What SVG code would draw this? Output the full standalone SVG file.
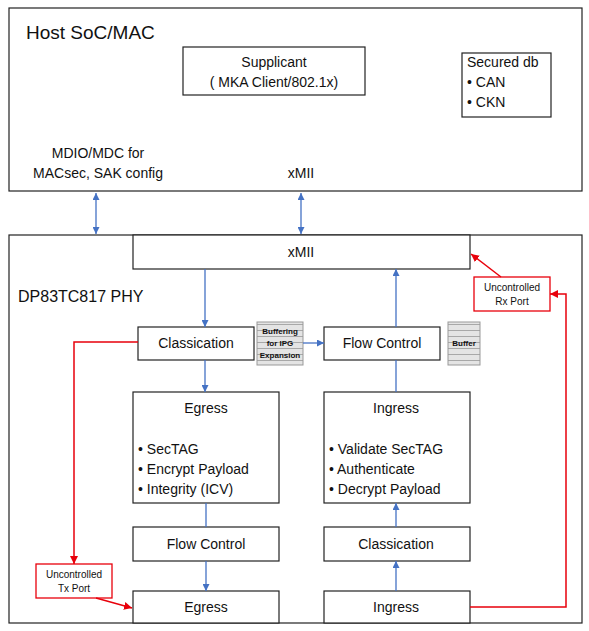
<svg xmlns="http://www.w3.org/2000/svg" width="589" height="631" viewBox="0 0 589 631">
<defs>
<marker id="ab" viewBox="0 0 10 10" refX="10" refY="5" markerWidth="7" markerHeight="7" orient="auto-start-reverse" markerUnits="userSpaceOnUse"><path d="M0,0 L10,5 L0,10 z" fill="#4472C4"/></marker>
<marker id="ar" viewBox="0 0 10 10" refX="10" refY="5" markerWidth="8" markerHeight="8" orient="auto" markerUnits="userSpaceOnUse"><path d="M0,0 L10,5 L0,10 z" fill="#E8000B"/></marker>
<pattern id="stripe" width="10" height="6" patternUnits="userSpaceOnUse"><rect width="10" height="6" fill="#e4e4e4"/><line x1="0" y1="0.5" x2="10" y2="0.5" stroke="#a8a8a8" stroke-width="1"/></pattern>
</defs>
<style>
text{font-family:"Liberation Sans",Arial,sans-serif;fill:#111}
.box{fill:#fff;stroke:#222;stroke-width:1.2}
.rbox{fill:#fff;stroke:#E8000B;stroke-width:1.3}
.t{font-size:14px;text-anchor:middle}
.b{font-size:14px}
.s{font-size:10px;text-anchor:middle}
.tiny{font-size:8px;font-weight:bold;text-anchor:middle}
.blue{stroke:#4472C4;stroke-width:1.3;fill:none}
.red{stroke:#E8000B;stroke-width:1.5;fill:none}
.buf{fill:url(#stripe);stroke:#999;stroke-width:1}
</style>
<rect width="589" height="631" fill="#fff"/>
<g id="host">
<rect class="box" x="9" y="8" width="573" height="183"/>
<text x="26" y="39" style="font-size:19px">Host SoC/MAC</text>
<text class="t" x="98" y="158">MDIO/MDC for</text>
<text class="t" x="98" y="178">MACsec, SAK config</text>
<text class="t" x="301" y="178">xMII</text>
</g>
<g id="supplicant">
<rect class="box" x="183" y="47" width="182" height="48"/>
<text class="t" x="274" y="67">Supplicant</text>
<text class="t" x="274" y="87">( MKA Client/802.1x)</text>
</g>
<g id="secured-db">
<rect class="box" x="462" y="53" width="89" height="64"/>
<text class="b" x="467" y="67">Secured db</text>
<text class="b" x="467" y="87">• CAN</text>
<text class="b" x="467" y="107">• CKN</text>
</g>
<g id="phy">
<rect class="box" x="9" y="235" width="573" height="388"/>
<text x="18" y="302" style="font-size:16px">DP83TC817 PHY</text>
</g>
<g id="xmii">
<rect class="box" x="133" y="235" width="337" height="34"/>
<text class="t" x="301" y="257">xMII</text>
</g>
<g id="classication-tx">
<rect class="box" x="138" y="327" width="116" height="33"/>
<text class="t" x="196" y="348">Classication</text>
</g>
<g id="buffering">
<rect class="buf" x="257" y="322" width="46" height="43"/>
<text class="tiny" x="280" y="334">Buffering</text>
<text class="tiny" x="280" y="346">for IPG</text>
<text class="tiny" x="280" y="358">Expansion</text>
</g>
<g id="flow-control-rx">
<rect class="box" x="324" y="327" width="116" height="33"/>
<text class="t" x="382" y="348">Flow Control</text>
</g>
<g id="buffer">
<rect class="buf" x="448" y="322" width="32" height="43"/>
<text class="tiny" x="464" y="346">Buffer</text>
</g>
<g id="egress-sec">
<rect class="box" x="133" y="392" width="146" height="111"/>
<text class="t" x="206" y="413">Egress</text>
<text class="b" x="138" y="454">• SecTAG</text>
<text class="b" x="138" y="474">• Encrypt Payload</text>
<text class="b" x="138" y="494">• Integrity (ICV)</text>
</g>
<g id="ingress-sec">
<rect class="box" x="324" y="392" width="146" height="111"/>
<text class="t" x="396" y="413">Ingress</text>
<text class="b" x="329" y="454">• Validate SecTAG</text>
<text class="b" x="329" y="474">• Authenticate</text>
<text class="b" x="329" y="494">• Decrypt Payload</text>
</g>
<g id="flow-control-tx">
<rect class="box" x="133" y="527" width="146" height="34"/>
<text class="t" x="206" y="549">Flow Control</text>
</g>
<g id="classication-rx">
<rect class="box" x="324" y="527" width="146" height="34"/>
<text class="t" x="396" y="549">Classication</text>
</g>
<g id="egress">
<rect class="box" x="133" y="591" width="146" height="32"/>
<text class="t" x="206" y="612">Egress</text>
</g>
<g id="ingress">
<rect class="box" x="324" y="591" width="146" height="32"/>
<text class="t" x="396" y="612">Ingress</text>
</g>
<g id="tx-port">
<rect class="rbox" x="36" y="564" width="76" height="34"/>
<text class="s" x="74" y="578">Uncontrolled</text>
<text class="s" x="74" y="592">Tx Port</text>
</g>
<g id="rx-port">
<rect class="rbox" x="474" y="277" width="76" height="34"/>
<text class="s" x="512" y="291">Uncontrolled</text>
<text class="s" x="512" y="305">Rx Port</text>
</g>
<g id="connectors">
<line class="blue" x1="96" y1="193" x2="96" y2="234" marker-start="url(#ab)" marker-end="url(#ab)"/>
<line class="blue" x1="301" y1="193" x2="301" y2="234" marker-start="url(#ab)" marker-end="url(#ab)"/>
<line class="blue" x1="205" y1="269" x2="205" y2="327" marker-end="url(#ab)"/>
<line class="blue" x1="396" y1="327" x2="396" y2="269" marker-end="url(#ab)"/>
<line class="blue" x1="303" y1="343" x2="324" y2="343" marker-end="url(#ab)"/>
<line class="blue" x1="205" y1="360" x2="205" y2="392" marker-end="url(#ab)"/>
<line class="blue" x1="396" y1="360" x2="396" y2="392"/>
<line class="blue" x1="206" y1="503" x2="206" y2="527"/>
<line class="blue" x1="396" y1="527" x2="396" y2="503" marker-end="url(#ab)"/>
<line class="blue" x1="206" y1="561" x2="206" y2="591" marker-end="url(#ab)"/>
<line class="blue" x1="396" y1="591" x2="396" y2="561" marker-end="url(#ab)"/>
<polyline class="red" points="138,342 74,342 74,564" marker-end="url(#ar)"/>
<line class="red" x1="96" y1="598" x2="132" y2="608" marker-end="url(#ar)"/>
<polyline class="red" points="470,607 566,607 566,294 550,294" marker-end="url(#ar)"/>
<line class="red" x1="501" y1="277" x2="471" y2="254" marker-end="url(#ar)"/>
</g>
</svg>
